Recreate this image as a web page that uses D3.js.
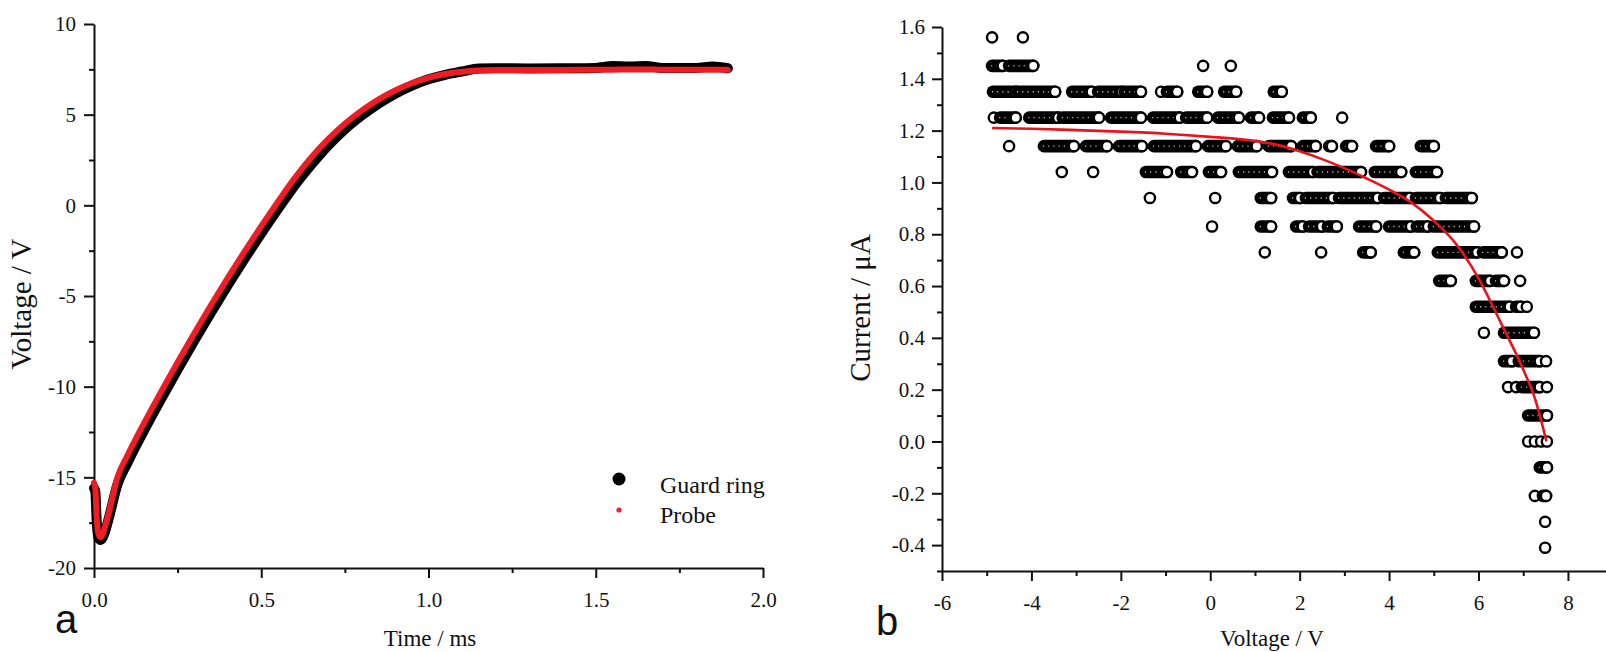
<!DOCTYPE html>
<html>
<head>
<meta charset="utf-8">
<script src="https://cdn.jsdelivr.net/npm/d3@7"></script>
<style>
  body { margin: 0; background: #fff; }
  svg text { font-family: "Liberation Serif", "Times New Roman", serif; fill: #111; }
</style>
</head>
<body>
<svg id="fig" width="1606" height="652"></svg>
<script>
// ---------- Panel a: potentials versus time ----------
const timeMs = [0, 0.004, 0.008, 0.013, 0.02, 0.03, 0.045, 0.07, 0.1, 0.15, 0.2, 0.25, 0.3, 0.35, 0.4, 0.45,
  0.5, 0.55, 0.6, 0.65, 0.7, 0.75, 0.8, 0.85, 0.9, 0.95, 1.0, 1.05, 1.1, 1.15, 1.2, 1.3, 1.4, 1.5, 1.55,
  1.6, 1.65, 1.7, 1.8, 1.85, 1.895];
const probeV = [-15.3, -15.6, -17.2, -18.1, -18.3, -17.9, -16.9, -15.0, -13.8, -12.0, -10.3, -8.65, -7.05,
  -5.5, -4.0, -2.55, -1.15, 0.2, 1.5, 2.65, 3.65, 4.5, 5.22, 5.83, 6.33, 6.73, 7.03, 7.24, 7.37, 7.44, 7.46,
  7.47, 7.47, 7.48, 7.48, 7.49, 7.49, 7.48, 7.48, 7.48, 7.47];
const guardRingV = [-15.6, -15.8, -17.4, -18.3, -18.45, -18.15, -17.2, -15.4, -14.2, -12.4, -10.7, -9.05,
  -7.45, -5.9, -4.4, -2.95, -1.55, -0.2, 1.1, 2.25, 3.3, 4.2, 4.95, 5.6, 6.15, 6.6, 6.95, 7.2, 7.38, 7.55,
  7.56, 7.55, 7.56, 7.58, 7.68, 7.66, 7.68, 7.58, 7.58, 7.66, 7.56];

const timeTicks = [0, 0.5, 1.0, 1.5, 2.0];
const timeMinor = [0.25, 0.75, 1.25, 1.75];
const voltTicks = [-20, -15, -10, -5, 0, 5, 10];
const voltMinor = [-17.5, -12.5, -7.5, -2.5, 2.5, 7.5];

// ---------- Panel b: current-voltage characteristic ----------
const currentLevels = [1.56, 1.45, 1.35, 1.25, 1.14, 1.04, 0.94, 0.83, 0.73, 0.62, 0.52, 0.42, 0.31, 0.21,
  0.10, 0.00, -0.10, -0.21, -0.31, -0.41];
// measured voltages at each current level: [v] single sample, [v0, v1] dense run of samples
const voltageRuns = [
  [[-4.88], [-4.19]],
  [[-4.88, -4.64], [-4.50, -3.96], [-0.16], [0.46]],
  [[-4.86, -4.35], [-4.30, -3.47], [-3.09, -2.65], [-2.51, -1.97], [-1.91, -1.55], [-1.10], [-0.97, -0.74],
    [-0.27, -0.07], [0.31, 0.58], [1.42, 1.60]],
  [[-4.84], [-4.70, -4.35], [-4.05, -3.40], [-3.30, -2.49], [-2.22, -1.55], [-1.28, -0.68], [-0.54, -0.07],
    [0.17, 0.64], [0.91, 1.09], [1.40, 1.76], [2.07, 2.25], [2.95]],
  [[-4.50], [-3.72, -3.05], [-2.78, -2.31], [-2.04, -1.53], [-1.26, -0.32], [-0.05, 0.35], [0.62, 1.04],
    [1.31, 1.81], [2.07, 2.36], [2.66, 2.72], [3.04, 3.17], [3.71, 4.00], [4.71, 5.00]],
  [[-3.32], [-2.62], [-1.44, -0.97], [-0.65, -0.41], [-0.03, 0.24], [0.64, 1.38], [1.76, 2.30], [2.40, 3.37],
    [3.68, 4.27], [4.60, 5.07]],
  [[-1.35], [0.11], [1.13, 1.36], [1.85, 2.01], [2.14, 2.75], [2.88, 3.75], [3.89, 4.47], [4.60, 5.14],
    [5.27, 5.85]],
  [[0.04], [1.13, 1.36], [1.92, 2.07], [2.21, 2.50], [2.63, 2.83], [3.33, 3.71], [4.00, 4.49], [4.62, 4.87],
    [5.00, 5.90]],
  [[1.22], [2.48], [3.42, 3.59], [4.33, 4.56], [5.09, 5.97], [6.10, 6.52], [6.86]],
  [[5.12, 5.38], [5.94, 6.26], [6.39, 6.57], [6.93]],
  [[5.94, 6.70], [6.84, 6.95], [7.08]],
  [[6.12], [6.57, 7.24]],
  [[6.57, 6.75], [6.90, 7.37], [7.51]],
  [[6.66], [6.84], [6.97, 7.37], [7.53]],
  [[7.11, 7.53]],
  [[7.11], [7.26], [7.40], [7.53]],
  [[7.37, 7.53]],
  [[7.26], [7.44, 7.51]],
  [[7.49]],
  [[7.49]]
];
// fitted characteristic
const fitVoltage = [-4.88, -4, -3, -2, -1, 0, 1, 1.5, 2, 2.5, 3, 3.5, 4, 4.5, 5, 5.5, 6, 6.5, 7, 7.25, 7.52];
const fitCurrent = [1.21, 1.207, 1.202, 1.196, 1.188, 1.176, 1.16, 1.145, 1.12, 1.09, 1.055, 1.015, 0.972,
  0.922, 0.852, 0.762, 0.63, 0.458, 0.278, 0.172, 0.0];

const biasTicks = [-6, -4, -2, 0, 2, 4, 6, 8];
const biasMinor = [-5, -3, -1, 1, 3, 5, 7, 9];
const currentTicks = [-0.4, -0.2, 0, 0.2, 0.4, 0.6, 0.8, 1.0, 1.2, 1.4, 1.6];
const currentMinor = [-0.5, -0.3, -0.1, 0.1, 0.3, 0.5, 0.7, 0.9, 1.1, 1.3, 1.5];

// ---------- drawing ----------
const svg = d3.select("#fig");
const ink = "#111";

function styleAxis(g, fontSize) {
  g.selectAll("path, line").attr("stroke", ink).attr("stroke-width", 2);
  g.selectAll("text").attr("font-size", fontSize).attr("fill", ink);
}

function addAxes(xs, ys, xMaj, xMin, yMaj, yMin, xFmt, yFmt, xPad, yPad) {
  const y0 = ys.range()[0], x0 = xs.range()[0];
  const gx = svg.append("g").attr("transform", `translate(0,${y0})`)
    .call(d3.axisBottom(xs).tickValues(xMaj).tickSize(10).tickSizeOuter(0).tickPadding(xPad).tickFormat(xFmt));
  styleAxis(gx, 21);
  const gxm = svg.append("g").attr("transform", `translate(0,${y0})`)
    .call(d3.axisBottom(xs).tickValues(xMin).tickSize(5).tickFormat(""));
  gxm.select(".domain").remove();
  styleAxis(gxm, 21);
  const gy = svg.append("g").attr("transform", `translate(${x0},0)`)
    .call(d3.axisLeft(ys).tickValues(yMaj).tickSize(10).tickSizeOuter(0).tickPadding(yPad).tickFormat(yFmt));
  styleAxis(gy, 21);
  const gym = svg.append("g").attr("transform", `translate(${x0},0)`)
    .call(d3.axisLeft(ys).tickValues(yMin).tickSize(5).tickFormat(""));
  gym.select(".domain").remove();
  styleAxis(gym, 21);
}

// Panel a
const xT = d3.scaleLinear().domain([0, 2]).range([94, 763]);
const yV = d3.scaleLinear().domain([-20, 10]).range([568, 24]);

addAxes(xT, yV, timeTicks, timeMinor, voltTicks, voltMinor,
  d => d.toFixed(1), d => String(d), 14, 8);

const lineA = d3.line().x((d, i) => xT(timeMs[i])).curve(d3.curveMonotoneX);

svg.append("path")
  .attr("d", lineA.y(d => yV(d))(guardRingV))
  .attr("fill", "none").attr("stroke", "#000").attr("stroke-width", 10)
  .attr("stroke-linecap", "round").attr("stroke-linejoin", "round");
svg.append("path")
  .attr("d", lineA.y(d => yV(d))(probeV))
  .attr("fill", "none").attr("stroke", "#ee1c24").attr("stroke-width", 6)
  .attr("stroke-linecap", "round").attr("stroke-linejoin", "round");

// legend
const legA = svg.append("g");
legA.append("circle").attr("cx", 619).attr("cy", 479).attr("r", 6.5).attr("fill", "#000");
legA.append("circle").attr("cx", 619).attr("cy", 510).attr("r", 2.6).attr("fill", "#ee1c3c");
legA.append("text").attr("x", 660).attr("y", 493).attr("font-size", 24).text("Guard ring");
legA.append("text").attr("x", 660).attr("y", 523).attr("font-size", 24).text("Probe");

svg.append("text").attr("x", 430).attr("y", 646).attr("text-anchor", "middle")
  .attr("font-size", 23).text("Time / ms");
svg.append("text").attr("transform", "translate(31,304) rotate(-90)").attr("text-anchor", "middle")
  .attr("font-size", 29).text("Voltage / V");
svg.append("text").attr("x", 55).attr("y", 633).attr("font-size", 40)
  .style("font-family", "'Liberation Sans', Arial, sans-serif").text("a");

// Panel b
const xB = d3.scaleLinear().domain([-6, 9]).range([942, 942 + 15 * 44.71]);
const yI = d3.scaleLinear().domain([-0.5, 1.6]).range([571, 27]);

addAxes(xB, yI, biasTicks, biasMinor, currentTicks, currentMinor,
  d => String(d), d => d.toFixed(1), 14, 7);

const R = 6.3; // outer radius of one open-circle marker
const runs = currentLevels.flatMap((lev, i) =>
  voltageRuns[i].map(r => ({ lev, a: r[0], b: r[r.length - 1] })));

const gS = svg.append("g");
runs.forEach(d => {
  const y = yI(d.lev);
  if (d.b > d.a) {
    gS.append("rect")
      .attr("x", xB(d.a) - R).attr("y", y - R)
      .attr("width", xB(d.b) - xB(d.a) + 2 * R).attr("height", 2 * R)
      .attr("rx", R).attr("fill", "#000");
    gS.append("line")
      .attr("x1", xB(d.a) - 1).attr("x2", xB(d.b) - 6).attr("y1", y).attr("y2", y)
      .attr("stroke", "#fff").attr("stroke-width", 1.4)
      .attr("stroke-dasharray", "1.2 4").attr("opacity", 0.75);
  }
  gS.append("circle").attr("cx", xB(d.b)).attr("cy", y).attr("r", R - 1.2)
    .attr("fill", "#fff").attr("stroke", "#000").attr("stroke-width", 2.4);
});

svg.append("path")
  .attr("d", d3.line().x(d => xB(d)).y((d, i) => yI(fitCurrent[i])).curve(d3.curveMonotoneX)(fitVoltage))
  .attr("fill", "none").attr("stroke", "#e8141c").attr("stroke-width", 2.6);

svg.append("text").attr("x", 1272).attr("y", 646).attr("text-anchor", "middle")
  .attr("font-size", 23).text("Voltage / V");
svg.append("text").attr("transform", "translate(870,308) rotate(-90)").attr("text-anchor", "middle")
  .attr("font-size", 29).text("Current / μA");
svg.append("text").attr("x", 876).attr("y", 635).attr("font-size", 40)
  .style("font-family", "'Liberation Sans', Arial, sans-serif").text("b");
</script>
</body>
</html>
